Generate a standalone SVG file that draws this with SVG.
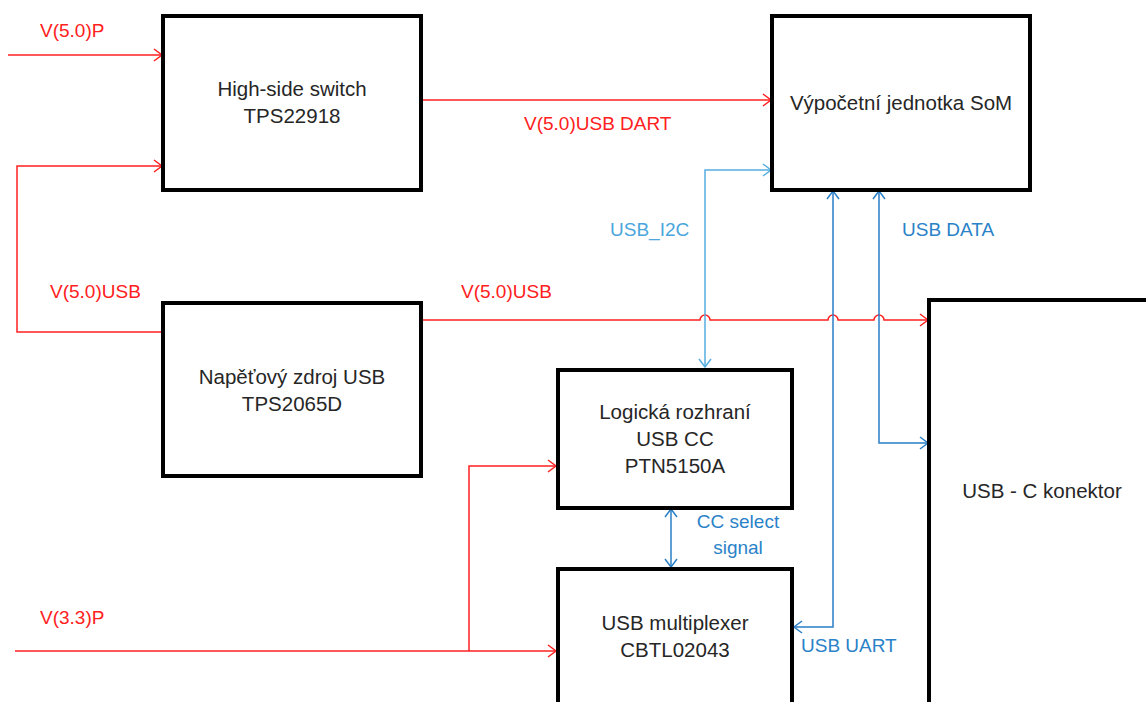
<svg xmlns="http://www.w3.org/2000/svg" width="1146" height="702" viewBox="0 0 1146 702">
<defs>
<style>
.box{fill:#fff;stroke:#000;stroke-width:4}
.nt{font-family:"Liberation Sans",Arial,sans-serif;font-size:20.5px;fill:#262626;text-anchor:middle}
.lr{font-family:"Liberation Sans",Arial,sans-serif;font-size:19px;fill:#ff2020}
.lb{font-family:"Liberation Sans",Arial,sans-serif;font-size:19px;fill:#2a82c8}
.ll{font-family:"Liberation Sans",Arial,sans-serif;font-size:19px;fill:#4aa6dc}
.r{fill:none;stroke:#ff2020;stroke-width:1.5}
.b{fill:none;stroke:#2a7fc6;stroke-width:1.5}
.l{fill:none;stroke:#55ade0;stroke-width:1.5}
</style>
<marker id="ar" markerUnits="userSpaceOnUse" markerWidth="12" markerHeight="14" refX="9" refY="7" orient="auto-start-reverse"><path d="M1,1 L9,7 L1,13" fill="none" stroke="#ff2020" stroke-width="1.5"/></marker>
<marker id="ab" markerUnits="userSpaceOnUse" markerWidth="12" markerHeight="14" refX="9" refY="7" orient="auto-start-reverse"><path d="M1,1 L9,7 L1,13" fill="none" stroke="#2a7fc6" stroke-width="1.5"/></marker>
<marker id="al" markerUnits="userSpaceOnUse" markerWidth="12" markerHeight="14" refX="9" refY="7" orient="auto-start-reverse"><path d="M1,1 L9,7 L1,13" fill="none" stroke="#55ade0" stroke-width="1.5"/></marker>
</defs>
<rect width="1146" height="702" fill="#fff"/>
<g id="connectors">
<path class="r" d="M8,55 H162" marker-end="url(#ar)"/>
<path class="r" d="M163,332 H17 V166 H162" marker-end="url(#ar)"/>
<path class="r" d="M421,100 H771" marker-end="url(#ar)"/>
<path class="r" d="M421,320 H700 A5,5 0 0 1 710,320 H828 A5,5 0 0 1 838,320 H874 A5,5 0 0 1 884,320 H928" marker-end="url(#ar)"/>
<path class="r" d="M15,651 H556" marker-end="url(#ar)"/>
<path class="r" d="M469,651 V466 H556" marker-end="url(#ar)"/>
<path class="l" d="M705,367 V170 H771" marker-start="url(#al)" marker-end="url(#al)"/>
<path class="b" d="M833,191 V627 H794" marker-start="url(#ab)" marker-end="url(#ab)"/>
<path class="b" d="M879,191 V443 H928" marker-start="url(#ab)" marker-end="url(#ab)"/>
<path class="b" d="M671,509 V567" marker-start="url(#ab)" marker-end="url(#ab)"/>
</g>
<g id="labels">
<text class="lr" x="40" y="37">V(5.0)P</text>
<text class="lr" x="524" y="130">V(5.0)USB DART</text>
<text class="lr" x="50" y="298">V(5.0)USB</text>
<text class="lr" x="461" y="298">V(5.0)USB</text>
<text class="lr" x="40" y="624">V(3.3)P</text>
<text class="ll" x="610" y="236">USB_I2C</text>
<text class="lb" x="902" y="236">USB DATA</text>
<text class="lb" x="738" y="528" text-anchor="middle">CC select</text>
<text class="lb" x="738" y="554" text-anchor="middle">signal</text>
<text class="lb" x="801" y="652">USB UART</text>
</g>
<g id="switch">
<rect class="box" x="163" y="16" width="258" height="174"/>
<text class="nt" x="292" y="96">High-side switch</text>
<text class="nt" x="292" y="123">TPS22918</text>
</g>
<g id="som">
<rect class="box" x="772" y="16" width="258" height="174"/>
<text class="nt" x="901" y="110">Výpočetní jednotka SoM</text>
</g>
<g id="zdroj">
<rect class="box" x="163" y="303" width="258" height="173"/>
<text class="nt" x="292" y="384">Napěťový zdroj USB</text>
<text class="nt" x="292" y="411">TPS2065D</text>
</g>
<g id="logicka">
<rect class="box" x="558" y="370" width="234" height="138"/>
<text class="nt" x="675" y="419">Logická rozhraní</text>
<text class="nt" x="675" y="446">USB CC</text>
<text class="nt" x="675" y="473">PTN5150A</text>
</g>
<g id="mux">
<rect class="box" x="558" y="569" width="234" height="140"/>
<text class="nt" x="675" y="630">USB multiplexer</text>
<text class="nt" x="675" y="657">CBTL02043</text>
</g>
<g id="konektor">
<rect class="box" x="929" y="300" width="230" height="410"/>
<text class="nt" x="1042" y="498">USB - C konektor</text>
</g>
</svg>
